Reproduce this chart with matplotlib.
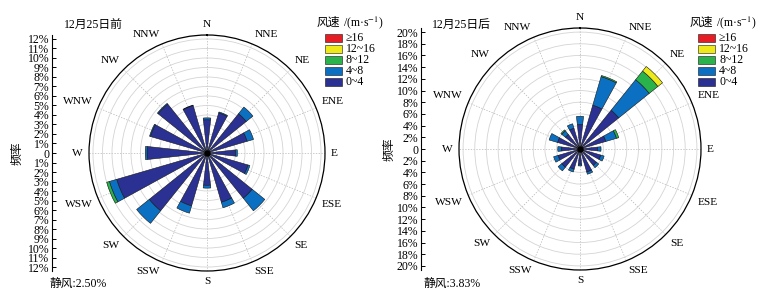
import numpy as np
import matplotlib
matplotlib.use("Agg")
import matplotlib.pyplot as plt
from matplotlib.patches import Rectangle

plt.rcParams['font.family'] = ['Liberation Serif', 'Noto Sans CJK SC']
plt.rcParams['mathtext.fontset'] = 'stix'

# ---------------- data ----------------
directions = ["N", "NNE", "NE", "ENE", "E", "ESE", "SE", "SSE",
              "S", "SSW", "SW", "WSW", "W", "WNW", "NW", "NNW"]
speed_bins = ["0~4", "4~8", "8~12", "12~16", "≥16"]
bin_colors = ["#2a3192", "#0b70c1", "#2ab34b", "#eeea1a", "#e71d25"]

# 12月25日前 (frequency, %)
before_0_4 = [3.5, 4.4, 5.3, 4.4, 3.0, 4.5, 6.1, 5.4, 3.4, 5.8, 7.8, 9.9, 6.3, 6.2, 6.6, 5.2]
before_4_8 = [0.2, 0.1, 0.9, 0.7, 0.2, 0.2, 1.7, 0.6, 0.3, 0.8, 1.7, 0.8, 0.2, 0.1, 0.1, 0.05]
before_8_12 = [0, 0, 0, 0, 0, 0, 0, 0, 0, 0, 0, 0.3, 0, 0, 0, 0]
before_12_16 = [0] * 16
before_16 = [0] * 16
before_calm = "2.50%"

# 12月25日后 (frequency, %)
after_0_4 = [4.2, 7.8, 8.5, 4.6, 3.0, 3.7, 3.6, 4.1, 2.6, 3.6, 4.0, 3.9, 3.2, 4.0, 3.2, 3.7]
after_4_8 = [1.4, 5.1, 6.7, 1.9, 0.6, 0.6, 0.5, 0.4, 0.3, 0.5, 0.8, 0.8, 0.6, 1.5, 0.8, 0.8]
after_8_12 = [0, 0.2, 1.9, 0.4, 0, 0, 0, 0, 0, 0, 0, 0, 0, 0, 0.2, 0]
after_12_16 = [0, 0, 1.0, 0, 0, 0, 0, 0, 0, 0, 0, 0, 0, 0, 0, 0]
after_16 = [0] * 16
after_calm = "3.83%"

W, H = 767, 304
fig = plt.figure(figsize=(W / 100, H / 100), dpi=100)


def fx(px):
    return px / W


def fy(py):
    return 1 - py / H


def rose(cx, cy, rad, rmax, ring_step, tick_max, tick_step, ruler_x, ylab_x,
         title, title_x, calm, calm_x, leg_x, series):
    ax = fig.add_axes([fx(cx - rad), fy(cy + rad), 2 * rad / W, 2 * rad / H],
                      projection='polar')
    ax.set_theta_zero_location('N')
    ax.set_theta_direction(-1)
    ax.set_ylim(0, rmax)
    ax.set_yticks(np.arange(ring_step, tick_max + 0.01, ring_step))
    ax.set_yticklabels([])
    theta = np.deg2rad(np.arange(16) * 22.5)
    ax.set_xticks(theta)
    ax.set_xticklabels([])
    ax.set_xticks(theta + np.deg2rad(11.25), minor=True)
    ax.tick_params(axis='x', which='both', direction='in', length=4,
                   width=0.7, color='black')
    ax.xaxis.grid(True, which='major', linestyle=(0, (2, 2)), color='#b5b5b5', lw=0.5)
    ax.yaxis.grid(True, linestyle='-', color='#d4d4d4', lw=0.6)
    ax.spines['polar'].set_linewidth(0.9)
    ax.set_facecolor('white')

    width = np.deg2rad(12.5)
    cum = np.zeros(16)
    for vals, col in zip(series, bin_colors):
        vals = np.asarray(vals, dtype=float)
        m = vals > 0
        if m.any():
            ax.bar(theta[m], vals[m], width=width, bottom=cum[m], color=col,
                   edgecolor='#151515', linewidth=0.4, zorder=3)
        cum += vals
    ax.plot([0], [0], 'o', color='black', ms=3.5, zorder=4)

    for i, name in enumerate(directions):
        th = theta[i]
        s, c = np.sin(th), np.cos(th)
        ha = 'left' if s > 0.1 else ('right' if s < -0.1 else 'center')
        va = 'bottom' if c > 0.1 else ('top' if c < -0.1 else 'center')
        ax.text(th, rmax * 1.05, name, ha=ha, va=va, fontsize=8.2)

    # vertical ruler
    rax = fig.add_axes([fx(ruler_x), fy(cy + rad), 0.01, 2 * rad / H])
    rax.set_ylim(-rmax, rmax)
    rax.set_xlim(0, 1)
    for sp in ['top', 'right', 'bottom']:
        rax.spines[sp].set_visible(False)
    rax.spines['left'].set_linewidth(0.8)
    rax.set_xticks([])
    ticks = np.arange(-tick_max, tick_max + 0.01, tick_step)
    rax.set_yticks(ticks)
    rax.set_yticklabels(["0" if abs(t) < 1e-9 else f"{abs(t):.0f}%" for t in ticks],
                        fontsize=8.5)
    rax.tick_params(axis='y', direction='in', length=3, width=0.7, pad=2)
    rax.patch.set_alpha(0)

    fig.text(fx(ylab_x), fy(cy), "频率", rotation=90, ha='center', va='center',
             fontsize=8.5)
    fig.text(fx(title_x), fy(25), title, ha='left', va='center', fontsize=8.5)
    fig.text(fx(calm_x), fy(284), "静风:" + calm, ha='left', va='center', fontsize=8.5)

    # legend
    fig.text(fx(leg_x), fy(23), "风速", ha='left', va='center', fontsize=8.5)
    fig.text(fx(leg_x + 26), fy(23), "/(m·s$^{-1}$)", ha='left', va='center',
             fontsize=8.5)
    for k in range(5):
        idx = 4 - k
        yc = 38 + k * 11.1
        fig.patches.append(Rectangle((fx(leg_x + 8), fy(yc + 4)), 17 / W, 8 / H,
                                     transform=fig.transFigure,
                                     facecolor=bin_colors[idx], edgecolor='#151515',
                                     linewidth=0.4))
        fig.text(fx(leg_x + 29), fy(yc), speed_bins[idx], ha='left', va='center',
                 fontsize=8.5)
    return ax


rose(207, 153, 118, 12.42, 1, 12, 1, 52, 18, "12月25日前", 64, before_calm, 50, 317,
     [before_0_4, before_4_8, before_8_12, before_12_16, before_16])
rose(580, 149, 121, 20.7, 2, 20, 2, 421, 390, "12月25日后", 432, after_calm, 423, 690,
     [after_0_4, after_4_8, after_8_12, after_12_16, after_16])

fig.savefig("out.png", dpi=100)
